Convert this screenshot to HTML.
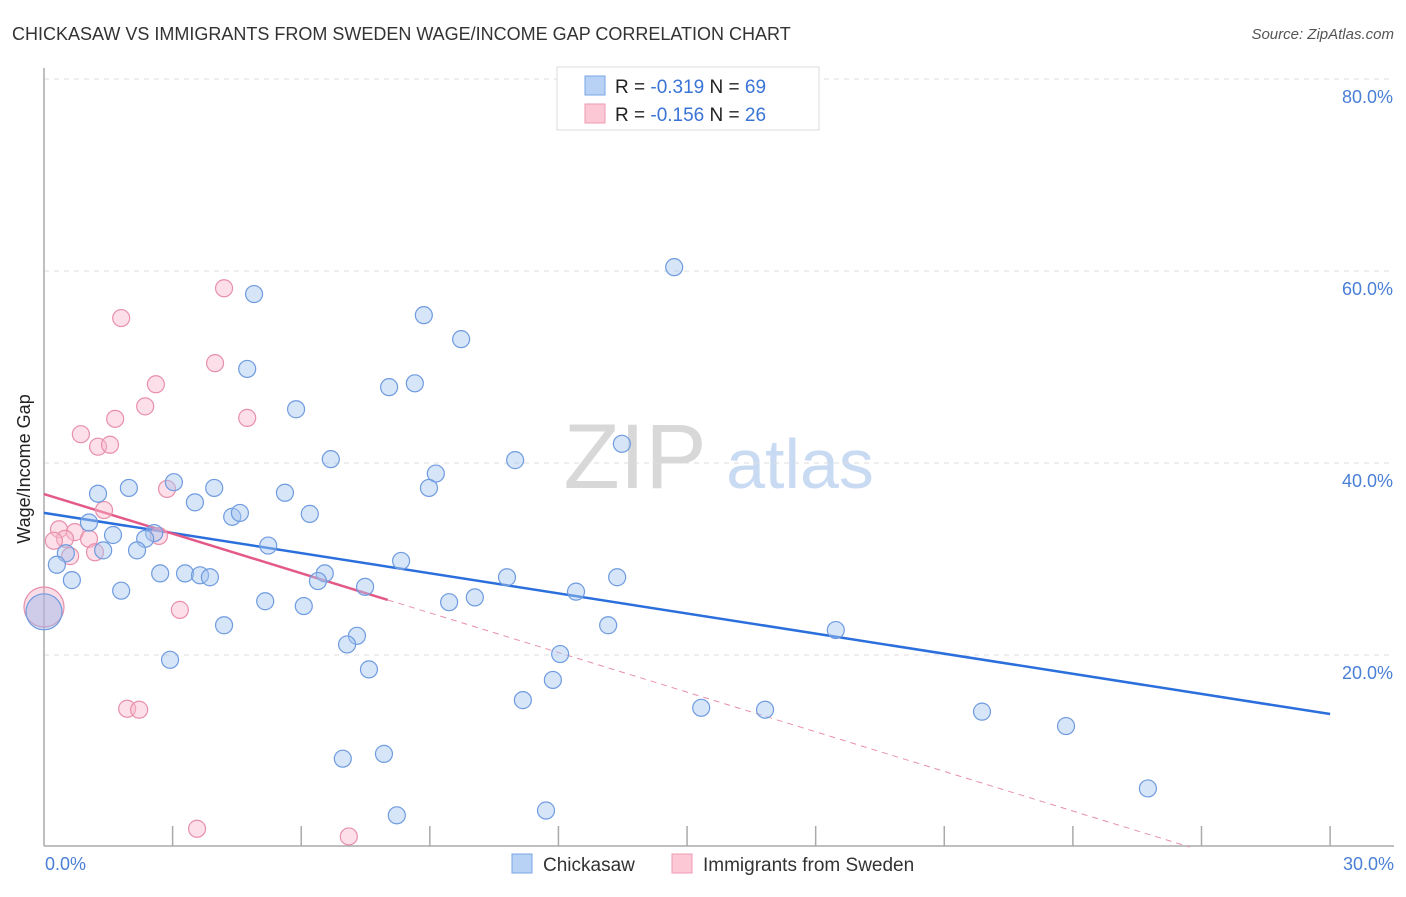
<!DOCTYPE html>
<html><head><meta charset="utf-8"><style>
body{margin:0;background:#fff;font-family:"Liberation Sans",sans-serif}
svg text{font-family:"Liberation Sans",sans-serif}
</style></head><body>
<svg width="1406" height="892" viewBox="0 0 1406 892">
<text x="12" y="40" font-size="18" fill="#333">CHICKASAW VS IMMIGRANTS FROM SWEDEN WAGE/INCOME GAP CORRELATION CHART</text>
<text x="1394" y="39" font-size="15" fill="#555" font-style="italic" text-anchor="end">Source: ZipAtlas.com</text>
<g>
<text x="635" y="488" font-size="92" fill="#d8d8d8" font-family="Liberation Serif" text-anchor="middle">ZIP</text>
<text x="800" y="488" font-size="70" fill="#c9daf3" text-anchor="middle">atlas</text>
</g>
<g id="grid"></g>
<g id="axes"></g>
<g id="trend"></g>
<g id="pts"></g>
<text x="16" y="455" font-size="18" fill="#222" transform="rotate(-90 30 455)" text-anchor="middle">Wage/Income Gap</text>
<text x="45" y="870" font-size="18" fill="#4a7fd6">0.0%</text>
<text x="1394" y="870" font-size="18" fill="#4a7fd6" text-anchor="end">30.0%</text>
<g>
<rect x="557" y="67" width="262" height="63" fill="#fff" stroke="#ddd"/>
<rect x="585" y="76" width="20" height="19" fill="#b8d2f5" stroke="#7aa5e6"/>
<rect x="585" y="104" width="20" height="19" fill="#fcc8d6" stroke="#ef9ab4"/>
<text x="615" y="93" font-size="19" fill="#222">R = <tspan fill="#3a74d6">-0.319</tspan>   N = <tspan fill="#3a74d6">69</tspan></text>
<text x="615" y="121" font-size="19" fill="#222">R = <tspan fill="#3a74d6">-0.156</tspan>   N = <tspan fill="#3a74d6">26</tspan></text>
</g>
<g>
<rect x="512" y="854" width="20" height="19" fill="#b8d2f5" stroke="#7aa5e6"/>
<text x="543" y="871" font-size="19" fill="#333">Chickasaw</text>
<rect x="672" y="854" width="20" height="19" fill="#fcc8d6" stroke="#ef9ab4"/>
<text x="703" y="871" font-size="19" fill="#333">Immigrants from Sweden</text>
</g>
</svg>
<script>
const yTicks=[20,40,60,80];
const yTickLabels=["20.0%","40.0%","60.0%","80.0%"];
const xTicks=[3,6,9,12,15,18,21,24,27,30];
const blueX=[14.70,4.90,8.86,9.73,4.74,8.05,8.65,5.88,13.48,6.69,10.99,9.14,8.98,3.03,1.26,1.98,3.97,3.52,5.62,4.39,4.57,6.20,1.05,2.57,1.61,2.36,5.23,0.51,1.38,2.17,0.30,8.33,0.65,2.71,3.29,3.64,3.87,6.55,6.39,7.49,10.80,13.37,12.41,1.80,10.05,9.45,5.16,6.06,4.20,13.16,18.47,7.30,7.07,12.04,2.94,7.58,11.87,11.17,15.33,16.82,21.88,23.84,7.93,6.97,25.75,11.71,8.23];
const blueY=[60.4,57.6,55.4,52.9,49.8,47.9,48.3,45.6,42.0,40.4,40.3,38.9,37.4,38.0,36.8,37.4,37.4,35.9,36.9,34.4,34.8,34.7,33.8,32.7,32.5,32.1,31.4,30.6,30.9,30.9,29.4,29.8,27.8,28.5,28.5,28.3,28.1,28.5,27.7,27.1,28.1,28.1,26.6,26.7,26.0,25.5,25.6,25.1,23.1,23.1,22.6,22.0,21.1,20.1,19.5,18.5,17.4,15.3,14.5,14.3,14.1,12.6,9.7,9.2,6.1,3.8,3.3];
const pinkX=[4.20,1.80,3.99,2.61,2.36,1.66,4.74,0.86,1.26,1.54,2.87,1.40,0.35,0.72,1.05,0.49,0.23,0.61,1.19,2.68,3.17,1.94,2.22,3.57,7.11];
const pinkY=[58.2,55.1,50.4,48.2,45.9,44.6,44.7,43.0,41.7,41.9,37.3,35.1,33.1,32.8,32.1,32.1,31.9,30.3,30.7,32.4,24.7,14.4,14.3,1.9,1.1];
const blueBig=[0,24.5], pinkBig=[0,25.0];
const blueTrend=[34.8,13.85]; // y at x=0 and x=30
const pinkTrend=[36.77,-1.376,8.02]; // intercept, slope, solid end x

const NS="http://www.w3.org/2000/svg";
const X=v=>44+v*42.87, Y=v=>847-v*9.6;
function mk(t,a,p){const e=document.createElementNS(NS,t);for(const k in a)e.setAttribute(k,a[k]);p.appendChild(e);return e;}
const grid=document.getElementById('grid'),axes=document.getElementById('axes');
yTicks.forEach((t,i)=>{
 const l=mk('line',{x1:44,x2:1394,y1:Y(t),y2:Y(t),stroke:'#ddd','stroke-dasharray':'5,5'},grid);
 
 
 const tx=mk('text',{x:1393,y:Y(t)+24,'font-size':18,fill:'#4a7fd6','text-anchor':'end'},grid);
 tx.textContent=yTickLabels[i];
 
 
});
const ya=mk('line',{x1:44,x2:44,y1:68,y2:846,stroke:'#aaa','stroke-width':1.5},axes);


const xa=mk('line',{x1:44,x2:1394,y1:846,y2:846,stroke:'#aaa','stroke-width':1.5},axes);


xTicks.forEach(t=>{
 const l=mk('line',{x1:X(t),x2:X(t),y1:826,y2:846,stroke:'#aaa','stroke-width':1.5},axes);
 
 
});
const tr=document.getElementById('trend');
const bl=mk('line',{x1:X(0),y1:Y(blueTrend[0]),x2:X(30),y2:Y(blueTrend[1]),stroke:'#2a6fdb','stroke-width':2.5},tr);


const pe=pinkTrend[2], pz=-pinkTrend[0]/pinkTrend[1];
const pl=mk('line',{x1:X(0),y1:Y(pinkTrend[0]),x2:X(pe),y2:Y(pinkTrend[0]+pinkTrend[1]*pe),stroke:'#e35a88','stroke-width':2.5},tr);


const pd=mk('line',{x1:X(pe),y1:Y(pinkTrend[0]+pinkTrend[1]*pe),x2:X(pz),y2:Y(0),stroke:'#e890ab','stroke-width':1,'stroke-dasharray':'6,5'},tr);


const pts=document.getElementById('pts');
function dot(x,y,r,f,s,n){const c=mk('circle',{cx:X(x),cy:Y(y),r:r,fill:f,stroke:s,'stroke-width':1.2},pts);
 
 }
dot(pinkBig[0],pinkBig[1],20,'rgba(245,170,195,0.4)','#e890ab','sweden-point');
dot(blueBig[0],blueBig[1],18,'rgba(150,185,235,0.45)','#6f9be0','chickasaw-point');
pinkX.forEach((x,i)=>dot(x,pinkY[i],8.5,'rgba(248,185,205,0.45)','#e890ab','sweden-point'));
blueX.forEach((x,i)=>dot(x,blueY[i],8.5,'rgba(165,198,240,0.45)','#6f9be0','chickasaw-point'));
</script>
</body></html>
